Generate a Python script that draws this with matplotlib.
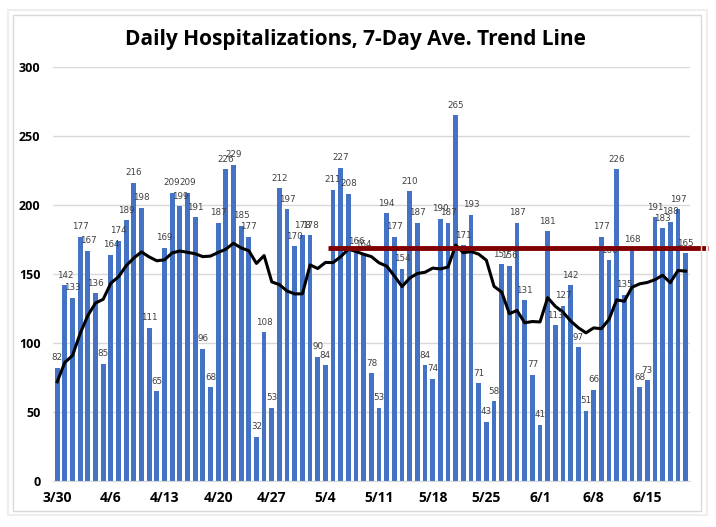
import matplotlib.pyplot as plt
from matplotlib.patches import Rectangle
import numpy as np

# daily hospitalizations, 3/30 through 6/20
daily = [82, 142, 133, 177, 167, 136, 85, 164, 174, 189, 216, 198, 111, 65,
         169, 209, 199, 209, 191, 96, 68, 187, 226, 229, 185, 177, 32, 108,
         53, 212, 197, 170, 178, 178, 90, 84, 211, 227, 208, 166, 164, 78,
         53, 194, 177, 154, 210, 187, 84, 74, 190, 187, 265, 171, 193, 71,
         43, 58, 157, 156, 187, 131, 77, 41, 181, 113, 127, 142, 97, 51,
         66, 177, 160, 226, 135, 168, 68, 73, 191, 183, 188, 197, 165]

# 7-day average trend line
trend = [72, 86, 91, 107, 120, 129, 131.7, 143.4, 148.0, 156.0, 161.6, 166.0,
         162.4, 159.6, 160.3, 165.3, 166.7, 165.7, 164.7, 162.6, 163.0, 165.6,
         168.0, 172.3, 168.9, 166.9, 157.7, 163.4, 144.3, 142.3, 137.7, 135.6,
         135.7, 156.6, 154.0, 158.4, 158.3, 162.6, 168.0, 166.3, 164.3, 162.6,
         158.1, 155.7, 148.6, 140.9, 147.1, 150.4, 151.3, 154.3, 153.7, 155.1,
         171.0, 165.4, 166.3, 164.4, 160.0, 141.1, 136.9, 121.3, 123.6, 114.7,
         115.6, 115.3, 132.9, 126.6, 122.4, 116.0, 111.1, 107.4, 111.0, 110.4,
         117.1, 131.3, 130.3, 140.4, 142.9, 143.9, 145.9, 149.1, 143.7, 152.6,
         152.1]

week_labels = ['3/30', '4/6', '4/13', '4/20', '4/27', '5/4', '5/11', '5/18',
               '5/25', '6/1', '6/8', '6/15']
threshold = 169  # red reference line

fig = plt.figure(figsize=(7.16, 5.27), dpi=100)
ax = fig.add_axes([0.074, 0.087, 0.89, 0.786])

# chart frame
fig.patches.append(Rectangle((8 / 716, 12 / 527), 699 / 716, 505 / 527,
                             transform=fig.transFigure, fill=False,
                             edgecolor='#EEEEEE', linewidth=1.5))
fig.patches.append(Rectangle((13 / 716, 16 / 527), 688 / 716, 496 / 527,
                             transform=fig.transFigure, fill=False,
                             edgecolor='#D9D9D9', linewidth=1))

x = np.arange(len(daily))
ax.bar(x, daily, width=0.62, color='#4472C4', zorder=2)
for xi, v in zip(x, daily):
    ax.text(xi, v + 4, str(v), ha='center', va='bottom', fontsize=6.3,
            color='#404040', zorder=4)

ax.plot(x, trend, color='black', linewidth=2.2, zorder=3)

ax.plot([35.4, 84.9], [threshold, threshold], color='#800000',
        linewidth=3.5, solid_capstyle='butt', clip_on=False, zorder=5)

ax.set_xlim(-0.55, 82.6)
ax.set_ylim(0, 300)
ax.set_yticks(range(0, 301, 50))
ax.set_xticks(x[::7])
ax.set_xticklabels(week_labels)
ax.grid(axis='y', color='#D9D9D9', linewidth=1, zorder=0)
for s in ['top', 'right', 'left']:
    ax.spines[s].set_visible(False)
ax.spines['bottom'].set_color('#D9D9D9')
ax.tick_params(length=0)
ax.tick_params(axis='y', pad=9)
ax.tick_params(axis='x', pad=7)
for lab in ax.get_xticklabels():
    lab.set_fontweight('bold')
    lab.set_fontsize(10)
    lab.set_fontfamily('Open Sans')
for lab in ax.get_yticklabels():
    lab.set_fontweight('bold')
    lab.set_fontsize(9)
    lab.set_fontfamily('Open Sans')

fig.text(0.496, 0.925, 'Daily Hospitalizations, 7-Day Ave. Trend Line',
         ha='center', va='center', fontsize=15, fontweight='bold',
         family='Open Sans')

fig.savefig('out.png', dpi=100)
